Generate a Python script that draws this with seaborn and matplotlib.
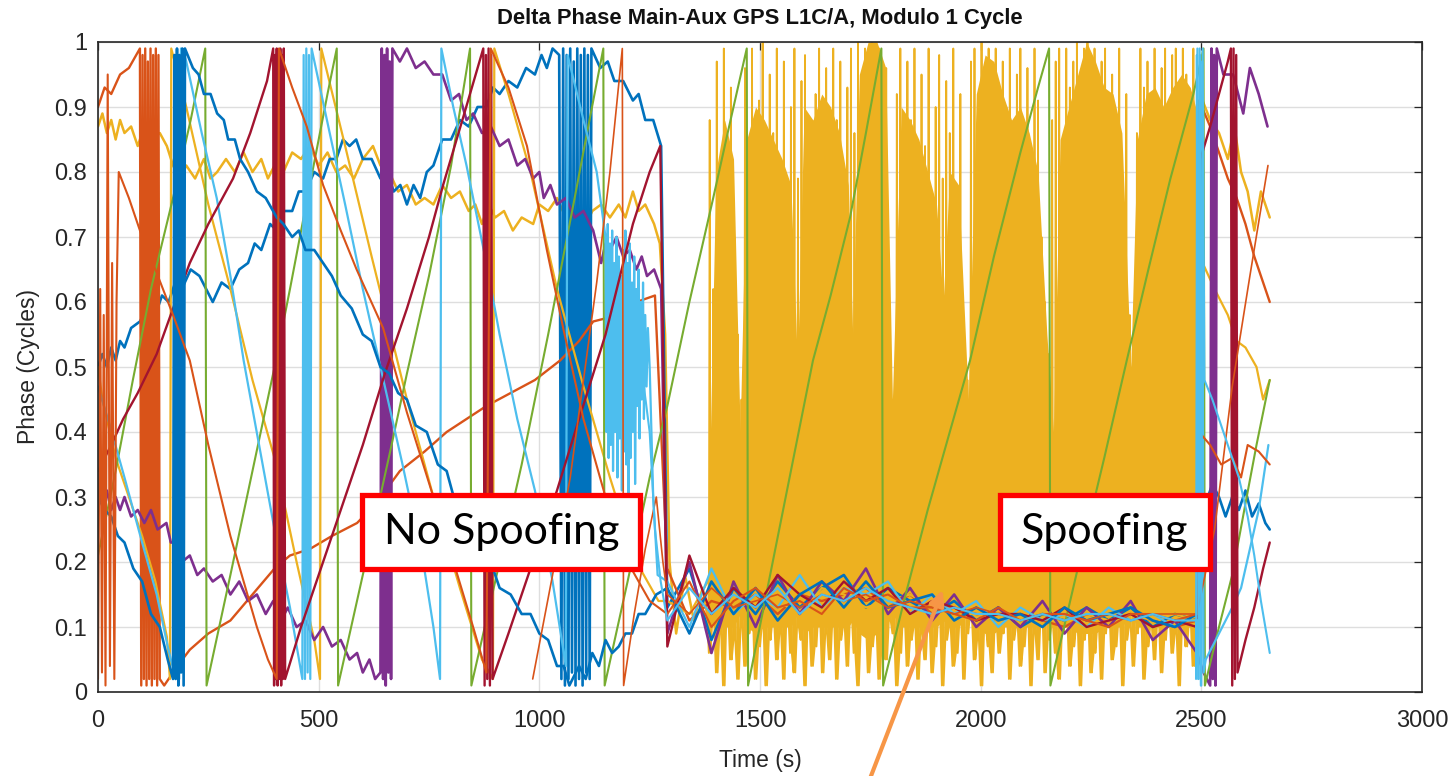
import matplotlib
matplotlib.use("Agg")
import matplotlib.pyplot as plt
from matplotlib import font_manager
from matplotlib.patches import Rectangle
import seaborn as sns

# MATLAB default line colours
BLUE = "#0072BD"
ORANGE = "#D95319"
YELLOW = "#EDB120"
PURPLE = "#7E2F8E"
GREEN = "#77AC30"
LIGHTBLUE = "#4DBEEE"
DARKRED = "#A2142F"

x_ticks = [0, 500, 1000, 1500, 2000, 2500, 3000]
x_tick_labels = ["0", "500", "1000", "1500", "2000", "2500", "3000"]
y_ticks = [0, 0.1, 0.2, 0.3, 0.4, 0.5, 0.6, 0.7, 0.8, 0.9, 1.0]
y_tick_labels = ["0", "0.1", "0.2", "0.3", "0.4", "0.5", "0.6", "0.7", "0.8", "0.9", "1"]

# ---- phase tracks before the spoofer captures the receiver: (time s, phase cycles) ----
blue_a_left = [(0, 0.50), (10, 0.52), (20, 0.50), (30, 0.53), (40, 0.51), (50, 0.54), (60, 0.53), (75, 0.56),
               (95, 0.57), (110, 0.59), (130, 0.58), (145, 0.61), (160, 0.60), (175, 0.63), (190, 0.62),
               (210, 0.65), (230, 0.64), (245, 0.62), (260, 0.60), (280, 0.63), (300, 0.62), (320, 0.65),
               (340, 0.66), (355, 0.69), (370, 0.68), (390, 0.72), (405, 0.71), (420, 0.74), (440, 0.74),
               (455, 0.77), (470, 0.77), (490, 0.80), (510, 0.79), (525, 0.82), (540, 0.82), (555, 0.85),
               (570, 0.84), (585, 0.85), (600, 0.82), (620, 0.82), (640, 0.79), (655, 0.80), (670, 0.77),
               (685, 0.78), (700, 0.75), (715, 0.78), (730, 0.76), (745, 0.80), (760, 0.81), (780, 0.85),
               (800, 0.85), (820, 0.88), (840, 0.87), (860, 0.90), (880, 0.90), (895, 0.93), (910, 0.92),
               (930, 0.94), (950, 0.93), (970, 0.96), (990, 0.95), (1005, 0.98), (1017, 0.96), (1030, 0.99),
               (1045, 0.98), (1050, 0.02), (1054, 0.99), (1058, 0.01), (1062, 0.98), (1066, 0.02), (1070, 0.99),
               (1074, 0.03), (1078, 0.97), (1082, 0.01), (1086, 0.99), (1090, 0.02), (1094, 0.98), (1098, 0.01),
               (1102, 0.99), (1106, 0.03), (1110, 0.98), (1114, 0.02), (1118, 0.99), (1138, 0.96), (1155, 0.97),
               (1170, 0.94), (1190, 0.94), (1212, 0.91), (1225, 0.92), (1240, 0.88), (1258, 0.88), (1276, 0.84)]
blue_b_left = [(0, 0.30), (15, 0.28), (30, 0.27), (45, 0.24), (60, 0.23), (80, 0.19), (100, 0.17), (120, 0.12),
               (140, 0.10), (158, 0.05), (170, 0.02), (173, 0.98), (176, 0.02), (179, 0.99), (182, 0.01),
               (185, 0.98), (188, 0.03), (191, 0.99), (194, 0.01), (197, 0.99), (215, 0.96), (228, 0.95),
               (240, 0.92), (255, 0.92), (270, 0.89), (285, 0.88), (295, 0.85), (310, 0.85), (322, 0.82),
               (340, 0.80), (360, 0.77), (380, 0.76), (405, 0.73), (420, 0.72), (440, 0.70), (455, 0.71),
               (470, 0.68), (490, 0.68), (510, 0.66), (530, 0.64), (550, 0.61), (575, 0.59), (600, 0.55),
               (620, 0.54), (640, 0.50), (660, 0.49), (680, 0.46), (700, 0.45), (720, 0.41), (745, 0.40),
               (770, 0.35), (790, 0.34), (810, 0.29), (835, 0.28), (860, 0.23), (885, 0.21), (910, 0.16),
               (935, 0.15), (960, 0.12), (980, 0.12), (1000, 0.09), (1020, 0.08), (1040, 0.04), (1055, 0.04),
               (1068, 0.01), (1090, 0.04), (1105, 0.02), (1120, 0.06), (1135, 0.04), (1150, 0.08), (1165, 0.06),
               (1180, 0.07), (1195, 0.09), (1210, 0.09), (1225, 0.12), (1240, 0.12), (1265, 0.15)]
lb_a_left = [(0, 0.47), (27, 0.41), (60, 0.33), (100, 0.23), (133, 0.15), (158, 0.07), (176, 0.02), (180, 0.97),
             (184, 0.02), (188, 0.99), (192, 0.03), (196, 0.98), (200, 0.97), (235, 0.86), (269, 0.76),
             (300, 0.64), (330, 0.51), (365, 0.38), (400, 0.25), (435, 0.13), (463, 0.02), (466, 0.98),
             (469, 0.02), (472, 0.99), (475, 0.03), (478, 0.98), (481, 0.02), (484, 0.99), (525, 0.86),
             (560, 0.75), (600, 0.62), (640, 0.50), (690, 0.35), (737, 0.20), (760, 0.10), (775, 0.02),
             (778, 0.99), (805, 0.90), (835, 0.81), (880, 0.66), (910, 0.55), (950, 0.42), (990, 0.31),
             (1030, 0.17), (1060, 0.04), (1064, 0.98), (1100, 0.88), (1130, 0.80), (1150, 0.70), (1152, 0.40),
             (1155, 0.72), (1157, 0.36), (1160, 0.69), (1162, 0.38), (1165, 0.71), (1167, 0.34), (1170, 0.66),
             (1172, 0.40), (1175, 0.70), (1177, 0.33), (1180, 0.67), (1182, 0.39), (1185, 0.64), (1187, 0.31),
             (1190, 0.68), (1192, 0.37), (1195, 0.71), (1197, 0.35), (1200, 0.66), (1202, 0.30), (1205, 0.69),
             (1207, 0.36), (1210, 0.63), (1212, 0.40), (1215, 0.67), (1217, 0.32), (1220, 0.62), (1222, 0.44),
             (1225, 0.65), (1227, 0.39), (1230, 0.60), (1232, 0.45), (1235, 0.63), (1237, 0.42), (1240, 0.58),
             (1243, 0.47), (1246, 0.56), (1250, 0.50), (1258, 0.30), (1268, 0.18)]
lb_c_left = [(1235, 0.48), (1250, 0.40), (1262, 0.25), (1275, 0.17)]
purple_left = [(0, 0.31), (10, 0.29), (20, 0.31), (30, 0.28), (40, 0.30), (50, 0.28), (60, 0.30), (75, 0.27),
               (90, 0.28), (105, 0.26), (120, 0.28), (135, 0.25), (155, 0.26), (165, 0.23), (175, 0.23),
               (190, 0.20), (208, 0.21), (225, 0.18), (240, 0.19), (260, 0.17), (280, 0.18), (300, 0.15),
               (320, 0.17), (340, 0.14), (360, 0.15), (380, 0.12), (397, 0.14), (415, 0.11), (430, 0.13),
               (450, 0.10), (470, 0.11), (490, 0.08), (510, 0.10), (530, 0.07), (550, 0.08), (570, 0.05),
               (587, 0.06), (600, 0.03), (615, 0.05), (628, 0.02), (640, 0.03), (643, 0.99), (646, 0.02),
               (649, 0.98), (652, 0.01), (655, 0.99), (658, 0.03), (661, 0.97), (664, 0.02), (667, 0.99),
               (684, 0.97), (700, 0.99), (720, 0.96), (740, 0.97), (760, 0.95), (780, 0.95), (800, 0.91),
               (818, 0.92), (835, 0.88), (850, 0.89), (870, 0.86), (890, 0.87), (910, 0.84), (930, 0.85),
               (950, 0.81), (968, 0.82), (986, 0.79), (1000, 0.80), (1010, 0.76), (1025, 0.78), (1040, 0.75),
               (1060, 0.76), (1080, 0.73), (1100, 0.74), (1122, 0.71), (1140, 0.66), (1150, 0.69), (1160, 0.68),
               (1175, 0.70), (1190, 0.67), (1205, 0.68), (1220, 0.65), (1232, 0.67), (1244, 0.64), (1260, 0.65),
               (1276, 0.62)]
red_left = [(0, 0.34), (30, 0.38), (57, 0.42), (90, 0.46), (133, 0.52), (170, 0.59), (208, 0.66), (250, 0.72),
            (306, 0.79), (345, 0.86), (383, 0.94), (397, 0.99), (399, 0.01), (401, 0.98), (403, 0.02),
            (405, 0.99), (407, 0.01), (409, 0.98), (411, 0.02), (413, 0.99), (415, 0.01), (417, 0.98),
            (419, 0.02), (421, 0.99), (424, 0.02), (460, 0.10), (510, 0.20), (560, 0.30), (600, 0.38),
            (650, 0.49), (700, 0.59), (750, 0.70), (782, 0.78), (830, 0.89), (873, 0.99), (876, 0.01),
            (879, 0.98), (882, 0.02), (885, 0.99), (888, 0.01), (891, 0.98), (894, 0.02), (930, 0.09),
            (980, 0.19), (1040, 0.31), (1090, 0.42), (1150, 0.55), (1212, 0.72), (1250, 0.80), (1274, 0.84)]
orange_a_left = [(0, 0.90), (15, 0.93), (30, 0.92), (50, 0.95), (70, 0.96), (95, 0.99), (98, 0.01), (101, 0.98),
                 (104, 0.02), (107, 0.99), (110, 0.01), (113, 0.97), (116, 0.02), (119, 0.99), (122, 0.01),
                 (125, 0.98), (128, 0.02), (131, 0.99), (134, 0.01), (137, 0.98), (140, 0.02), (150, 0.01),
                 (180, 0.04), (208, 0.065), (250, 0.09), (300, 0.11), (350, 0.15), (400, 0.19), (435, 0.21),
                 (480, 0.22), (530, 0.24), (587, 0.26), (630, 0.29), (684, 0.34), (740, 0.37), (790, 0.40),
                 (835, 0.42), (880, 0.44), (935, 0.46), (990, 0.48), (1047, 0.51), (1090, 0.54), (1122, 0.57),
                 (1180, 0.58), (1220, 0.60), (1262, 0.61)]
orange_b_left = [(0, 0.02), (5, 0.62), (9, 0.03), (13, 0.58), (17, 0.01), (22, 0.95), (27, 0.04), (32, 0.66),
                 (37, 0.02), (42, 0.60), (47, 0.80), (70, 0.76), (95, 0.71), (130, 0.65), (170, 0.58),
                 (208, 0.51), (250, 0.38), (300, 0.24), (330, 0.17), (360, 0.10), (385, 0.05), (405, 0.02),
                 (410, 0.99), (440, 0.93), (473, 0.87), (510, 0.78), (550, 0.71), (586, 0.65), (646, 0.56),
                 (700, 0.43), (760, 0.30), (810, 0.19), (850, 0.10), (880, 0.03), (890, 0.99), (930, 0.93),
                 (972, 0.84), (1017, 0.68), (1054, 0.56), (1100, 0.42), (1150, 0.30), (1200, 0.20), (1250, 0.14)]
orange_c_left = [(985, 0.02), (1030, 0.18), (1070, 0.33), (1100, 0.48), (1130, 0.63), (1160, 0.80), (1188, 0.99),
                 (1191, 0.01), (1215, 0.12), (1240, 0.22), (1265, 0.30), (1280, 0.20)]
yellow_a_left = [(0, 0.87), (10, 0.89), (20, 0.86), (30, 0.88), (40, 0.85), (50, 0.88), (60, 0.86), (75, 0.87),
                 (90, 0.84), (105, 0.87), (120, 0.85), (140, 0.86), (156, 0.84), (170, 0.81), (185, 0.79),
                 (200, 0.81), (220, 0.79), (240, 0.82), (255, 0.79), (270, 0.80), (290, 0.82), (310, 0.80),
                 (330, 0.83), (350, 0.80), (370, 0.82), (385, 0.79), (400, 0.81), (420, 0.80), (440, 0.83),
                 (460, 0.82), (480, 0.84), (500, 0.81), (520, 0.83), (540, 0.80), (560, 0.81), (580, 0.79),
                 (600, 0.82), (623, 0.84), (640, 0.81), (660, 0.80), (680, 0.77), (700, 0.78), (720, 0.75),
                 (740, 0.76), (760, 0.75), (780, 0.78), (800, 0.76), (820, 0.77), (840, 0.74), (855, 0.75),
                 (870, 0.72), (885, 0.75), (900, 0.73), (920, 0.74), (940, 0.71), (960, 0.73), (986, 0.72),
                 (1000, 0.75), (1020, 0.74), (1040, 0.76), (1060, 0.73), (1080, 0.74), (1100, 0.71), (1120, 0.74),
                 (1140, 0.75), (1160, 0.73), (1180, 0.75), (1195, 0.73), (1212, 0.77), (1225, 0.74), (1240, 0.75),
                 (1260, 0.72), (1273, 0.69), (1285, 0.55), (1295, 0.20), (1310, 0.09), (1330, 0.18), (1350, 0.11),
                 (1370, 0.16), (1380, 0.12)]
yellow_b_left = [(0, 0.50), (10, 0.45), (40, 0.36), (70, 0.30), (100, 0.24), (130, 0.17), (156, 0.085), (163, 0.02),
                 (166, 0.99), (200, 0.90), (250, 0.75), (300, 0.62), (350, 0.48), (400, 0.36), (450, 0.20),
                 (490, 0.08), (503, 0.02), (506, 0.99), (560, 0.84), (620, 0.67), (700, 0.45), (760, 0.30),
                 (820, 0.16), (870, 0.05), (895, 0.02), (898, 0.99), (930, 0.92), (980, 0.80), (1040, 0.62),
                 (1100, 0.47), (1160, 0.33), (1220, 0.20), (1270, 0.14)]
green_track = [(0, 0.21), (40, 0.34), (79, 0.48), (120, 0.62), (170, 0.76), (210, 0.88), (243, 0.99), (246, 0.01),
               (300, 0.18), (350, 0.34), (400, 0.50), (435, 0.62), (480, 0.78), (520, 0.92), (541, 0.99),
               (544, 0.01), (600, 0.18), (662, 0.37), (700, 0.49), (750, 0.64), (800, 0.81), (843, 0.99),
               (846, 0.01), (900, 0.17), (960, 0.35), (1020, 0.55), (1080, 0.76), (1108, 0.86), (1145, 0.99),
               (1148, 0.01), (1200, 0.17), (1250, 0.33), (1290, 0.44), (1340, 0.60), (1394, 0.76), (1430, 0.87),
               (1470, 0.99), (1473, 0.01), (1520, 0.17), (1570, 0.34), (1620, 0.51), (1660, 0.61), (1704, 0.73),
               (1740, 0.86), (1775, 0.99), (1779, 0.01), (1830, 0.15), (1880, 0.28), (1930, 0.40), (1976, 0.51),
               (2030, 0.67), (2090, 0.83), (2130, 0.93), (2155, 0.99), (2158, 0.01), (2220, 0.19), (2280, 0.36),
               (2331, 0.51), (2380, 0.65), (2430, 0.79), (2482, 0.92), (2505, 0.99), (2508, 0.01), (2540, 0.10),
               (2570, 0.18), (2600, 0.29), (2625, 0.38), (2655, 0.48)]

# ---- captured tracks collapse onto a common phase (every 50 s from 1290 s to 2490 s) ----
bundle_t = [1290, 1340, 1390, 1440, 1490, 1540, 1590, 1640, 1690, 1740, 1790, 1840, 1890,
            1940, 1990, 2040, 2090, 2140, 2190, 2240, 2290, 2340, 2390, 2440, 2490]
bundle_blue_a = [0.13, 0.19, 0.08, 0.16, 0.12, 0.17, 0.13, 0.16, 0.18, 0.13, 0.16, 0.14, 0.12,
                 0.14, 0.11, 0.13, 0.10, 0.12, 0.11, 0.13, 0.11, 0.13, 0.10, 0.12, 0.11]
bundle_blue_b = [0.16, 0.09, 0.17, 0.12, 0.16, 0.11, 0.15, 0.17, 0.13, 0.17, 0.13, 0.14, 0.15,
                 0.11, 0.13, 0.11, 0.12, 0.10, 0.13, 0.11, 0.12, 0.13, 0.11, 0.10, 0.12]
bundle_lb_a = [0.17, 0.10, 0.19, 0.12, 0.15, 0.13, 0.18, 0.13, 0.16, 0.15, 0.17, 0.12, 0.15,
               0.12, 0.14, 0.10, 0.13, 0.11, 0.12, 0.10, 0.13, 0.11, 0.12, 0.10, 0.12]
bundle_lb_c = [0.11, 0.16, 0.12, 0.15, 0.13, 0.16, 0.12, 0.15, 0.14, 0.16, 0.14, 0.13, 0.12,
               0.13, 0.12, 0.12, 0.11, 0.12, 0.11, 0.12, 0.12, 0.11, 0.12, 0.11, 0.11]
bundle_purple = [0.09, 0.20, 0.06, 0.17, 0.10, 0.18, 0.12, 0.17, 0.14, 0.19, 0.12, 0.16, 0.11,
                 0.15, 0.10, 0.13, 0.10, 0.14, 0.09, 0.13, 0.10, 0.14, 0.08, 0.11, 0.06]
bundle_red = [0.07, 0.21, 0.12, 0.16, 0.13, 0.18, 0.15, 0.13, 0.17, 0.14, 0.16, 0.12, 0.14,
              0.13, 0.11, 0.12, 0.12, 0.11, 0.13, 0.10, 0.11, 0.12, 0.10, 0.11, 0.10]
bundle_orange_a = [0.19, 0.11, 0.14, 0.13, 0.15, 0.12, 0.15, 0.14, 0.15, 0.16, 0.13, 0.15, 0.12,
                   0.13, 0.12, 0.11, 0.12, 0.11, 0.10, 0.12, 0.11, 0.12, 0.11, 0.10, 0.11]
bundle_orange_b = [0.12, 0.17, 0.10, 0.14, 0.16, 0.13, 0.14, 0.12, 0.16, 0.14, 0.15, 0.13, 0.13,
                   0.12, 0.11, 0.13, 0.11, 0.12, 0.12, 0.11, 0.10, 0.12, 0.12, 0.11, 0.12]
bundle_orange_c = [0.15, 0.12, 0.16, 0.13, 0.14, 0.15, 0.13, 0.15, 0.14, 0.15, 0.13, 0.14, 0.13,
                   0.12, 0.13, 0.12, 0.11, 0.12, 0.12, 0.11, 0.12, 0.11, 0.12, 0.12, 0.12]
bundle_yellow_b = [0.14, 0.12, 0.18, 0.11, 0.15, 0.14, 0.12, 0.16, 0.15, 0.13, 0.14, 0.15, 0.13,
                   0.12, 0.12, 0.11, 0.12, 0.12, 0.11, 0.12, 0.11, 0.12, 0.11, 0.12, 0.11]

# ---- the spoofed yellow channel: a cycle slip every 8 s from 1384 s to 2488 s ----
slip_t = list(range(1384, 2489, 8))
slip_top = [0.88, 0.62, 0.97, 0.75, 0.99, 0.84, 0.93, 0.70, 0.55, 0.45,
            0.96, 0.80, 0.99, 0.72, 0.91, 1.00, 0.78, 0.95, 0.86, 0.99,
            0.82, 0.97, 0.68, 0.90, 0.99, 0.79, 0.94, 0.98, 0.62, 0.50,
            0.92, 0.99, 0.83, 0.96, 0.74, 0.99, 0.88, 0.97, 0.80, 0.93,
            0.99, 0.86, 1.00, 0.95, 0.99, 0.91, 1.00, 0.97, 0.99, 0.90,
            0.96, 0.58, 0.45, 0.92, 0.99, 0.81, 0.97, 0.88, 0.99, 0.76,
            0.95, 0.84, 0.99, 0.73, 0.90, 0.98, 0.79, 0.94, 0.86, 0.99,
            0.77, 0.92, 0.55, 0.48, 0.97, 0.99, 0.89, 1.00, 0.96, 0.99,
            0.93, 0.99, 0.85, 0.97, 0.90, 0.99, 0.82, 0.95, 0.99, 0.87,
            0.96, 0.78, 0.99, 0.91, 0.70, 0.60, 0.52, 0.88, 0.97, 0.99,
            0.84, 0.99, 0.93, 0.97, 1.00, 0.89, 0.99, 1.00, 0.95, 0.99,
            0.90, 0.97, 0.99, 0.83, 0.95, 0.88, 0.99, 0.78, 0.92, 0.58,
            0.50, 0.86, 0.99, 0.93, 0.97, 0.81, 0.99, 0.90, 0.96, 0.99,
            0.87, 0.98, 0.99, 0.92, 0.99, 0.95, 0.89, 0.99, 0.94]
slip_bottom = [0.06, 0.11, 0.03, 0.09, 0.01, 0.12, 0.05, 0.08, 0.02, 0.10,
               0.04, 0.09, 0.12, 0.02, 0.07, 0.10, 0.01, 0.08, 0.11, 0.05,
               0.09, 0.02, 0.12, 0.06, 0.03, 0.10, 0.08, 0.01, 0.11, 0.04,
               0.07, 0.12, 0.03, 0.09, 0.05, 0.11, 0.02, 0.08, 0.10, 0.04,
               0.12, 0.06, 0.01, 0.09, 0.11, 0.03, 0.07, 0.10, 0.02, 0.08,
               0.05, 0.11, 0.09, 0.01, 0.06, 0.12, 0.04, 0.08, 0.10, 0.02,
               0.09, 0.05, 0.11, 0.03, 0.07, 0.12, 0.01, 0.08, 0.10, 0.04,
               0.06, 0.11, 0.02, 0.09, 0.12, 0.05, 0.08, 0.01, 0.10, 0.07,
               0.03, 0.11, 0.06, 0.09, 0.12, 0.02, 0.08, 0.10, 0.04, 0.07,
               0.11, 0.01, 0.09, 0.05, 0.12, 0.03, 0.08, 0.10, 0.06, 0.02,
               0.09, 0.12, 0.04, 0.07, 0.10, 0.01, 0.08, 0.11, 0.03, 0.06,
               0.10, 0.02, 0.09, 0.12, 0.05, 0.07, 0.11, 0.01, 0.08, 0.10,
               0.04, 0.09, 0.12, 0.02, 0.07, 0.10, 0.05, 0.11, 0.03, 0.08,
               0.12, 0.06, 0.09, 0.01, 0.10, 0.07, 0.11, 0.04, 0.08]
# solid part of the slip band: (time, lower edge, upper edge)
core_band = [(1380, 0.12, 0.15), (1400, 0.10, 0.80), (1420, 0.10, 0.88), (1440, 0.10, 0.82), (1455, 0.12, 0.40),
             (1470, 0.10, 0.85), (1490, 0.09, 0.90), (1510, 0.10, 0.88), (1530, 0.10, 0.85), (1550, 0.10, 0.82),
             (1570, 0.10, 0.78), (1585, 0.12, 0.50), (1600, 0.09, 0.90), (1620, 0.10, 0.88), (1640, 0.10, 0.92),
             (1660, 0.10, 0.90), (1680, 0.10, 0.86), (1700, 0.10, 0.78), (1710, 0.11, 0.55), (1725, 0.09, 0.95),
             (1745, 0.08, 1.00), (1765, 0.09, 1.00), (1785, 0.10, 0.96), (1800, 0.12, 0.45), (1820, 0.10, 0.90),
             (1840, 0.10, 0.88), (1860, 0.10, 0.85), (1880, 0.10, 0.80), (1900, 0.10, 0.75), (1915, 0.11, 0.60),
             (1930, 0.10, 0.80), (1950, 0.10, 0.78), (1972, 0.12, 0.45), (1990, 0.10, 0.92), (2010, 0.09, 0.98),
             (2030, 0.09, 0.97), (2050, 0.10, 0.92), (2070, 0.10, 0.88), (2090, 0.10, 0.90), (2110, 0.10, 0.86),
             (2130, 0.10, 0.80), (2150, 0.11, 0.55), (2165, 0.12, 0.40), (2180, 0.10, 0.85), (2200, 0.10, 0.90),
             (2220, 0.09, 0.95), (2240, 0.09, 1.00), (2260, 0.09, 0.97), (2280, 0.10, 0.93), (2300, 0.10, 0.92),
             (2320, 0.10, 0.86), (2340, 0.12, 0.50), (2355, 0.10, 0.85), (2375, 0.10, 0.92), (2395, 0.10, 0.93),
             (2415, 0.10, 0.90), (2435, 0.10, 0.93), (2455, 0.10, 0.95), (2475, 0.10, 0.93), (2495, 0.10, 0.88)]

# ---- tracks after the spoofer drops off ----
blue_a_end = [(2496, 0.31), (2510, 0.29), (2525, 0.32), (2540, 0.30), (2555, 0.27), (2570, 0.30), (2585, 0.28),
              (2600, 0.31), (2615, 0.27), (2630, 0.29), (2645, 0.26), (2655, 0.25)]
lb_a_end = [(2490, 0.98), (2493, 0.02), (2496, 0.99), (2499, 0.01), (2502, 0.97), (2505, 0.03), (2510, 0.05),
            (2525, 0.07), (2540, 0.09), (2555, 0.11), (2570, 0.13), (2590, 0.16), (2610, 0.22), (2630, 0.28),
            (2652, 0.38)]
lb_c_end = [(2488, 0.02), (2491, 0.99), (2494, 0.02), (2497, 0.98), (2500, 0.01), (2503, 0.99), (2507, 0.48),
            (2525, 0.45), (2545, 0.41), (2565, 0.37), (2585, 0.33), (2605, 0.27), (2620, 0.21), (2635, 0.14),
            (2655, 0.06)]
purple_end = [(2505, 0.03), (2520, 0.01), (2523, 0.99), (2526, 0.02), (2529, 0.98), (2532, 0.01), (2535, 0.99),
              (2550, 0.95), (2572, 0.95), (2595, 0.89), (2610, 0.96), (2630, 0.92), (2650, 0.87)]
red_end = [(2498, 0.82), (2520, 0.87), (2540, 0.92), (2560, 0.97), (2567, 0.99), (2570, 0.01), (2573, 0.99),
           (2576, 0.02), (2579, 0.98), (2582, 0.03), (2600, 0.08), (2620, 0.13), (2640, 0.19), (2655, 0.23)]
orange_a_end = [(2495, 0.91), (2520, 0.87), (2540, 0.83), (2560, 0.79), (2580, 0.76), (2600, 0.72), (2620, 0.67),
                (2640, 0.63), (2655, 0.60)]
orange_b_end = [(2495, 0.40), (2520, 0.38), (2545, 0.35), (2570, 0.36), (2590, 0.33), (2605, 0.38), (2630, 0.37),
                (2655, 0.35)]
orange_c_end = [(2530, 0.25), (2570, 0.47), (2610, 0.64), (2651, 0.81)]
yellow_a_end = [(2497, 0.92), (2520, 0.88), (2540, 0.86), (2560, 0.82), (2575, 0.87), (2590, 0.80), (2605, 0.77),
                (2620, 0.71), (2635, 0.77), (2655, 0.73)]
yellow_b_end = [(2503, 0.66), (2530, 0.62), (2560, 0.58), (2580, 0.54), (2600, 0.53), (2625, 0.50), (2640, 0.45),
                (2655, 0.48)]


def track(left, bundle=None, end=None):
    pts = list(left)
    if bundle is not None:
        pts += list(zip(bundle_t, bundle))
    if end is not None:
        pts += list(end)
    return [p[0] for p in pts], [p[1] for p in pts]


# each slip is a near-vertical excursion: bottom -> top -> bottom within 4 s
slip_pts = [yellow_a_left[-1]]
for t, top, bottom in zip(slip_t, slip_top, slip_bottom):
    slip_pts += [(t, bottom), (t + 2, top), (t + 4, bottom)]
slip_pts.append(yellow_a_end[0])

# (colour, line width, time, phase) in plotting order
tracks = [
    (YELLOW, 1.3, *track(slip_pts)),
    (YELLOW, 1.8, *track(yellow_a_left)),
    (YELLOW, 1.8, *track(yellow_a_end)),
    (BLUE, 1.9, *track(blue_a_left, bundle_blue_a, blue_a_end)),
    (ORANGE, 1.7, *track(orange_a_left, bundle_orange_a, orange_a_end)),
    (YELLOW, 1.6, *track(yellow_b_left, bundle_yellow_b, yellow_b_end)),
    (PURPLE, 1.9, *track(purple_left, bundle_purple, purple_end)),
    (GREEN, 1.5, *track(green_track)),
    (LIGHTBLUE, 1.6, *track(lb_a_left, bundle_lb_a, lb_a_end)),
    (DARKRED, 1.7, *track(red_left, bundle_red, red_end)),
    (BLUE, 1.9, *track(blue_b_left, bundle_blue_b)),
    (ORANGE, 1.5, *track(orange_b_left, bundle_orange_b, orange_b_end)),
    (ORANGE, 1.2, *track(orange_c_left, bundle_orange_c, orange_c_end)),
    (LIGHTBLUE, 1.5, *track(lb_c_left, bundle_lb_c, lb_c_end)),
]

sns.set_theme(style="white")
available = {f.name for f in font_manager.fontManager.ttflist}
sans = "Liberation Sans" if "Liberation Sans" in available else "DejaVu Sans"
box_font = "Lato" if "Lato" in available else sans
plt.rcParams["font.family"] = [sans, "DejaVu Sans"]

fig = plt.figure(figsize=(14.55, 7.76), dpi=100)
ax = fig.add_axes([98 / 1455, 84 / 776, 1324 / 1455, 650 / 776])

ax.fill_between([c[0] for c in core_band], [c[1] for c in core_band], [c[2] for c in core_band],
                color=YELLOW, lw=0, zorder=2)
for color, lw, t, v in tracks:
    sns.lineplot(x=t, y=v, color=color, linewidth=lw, sort=False, estimator=None,
                 legend=False, ax=ax, zorder=2)

ax.set_xlim(0, 3000)
ax.set_ylim(0, 1)
ax.set_xticks(x_ticks)
ax.set_xticklabels(x_tick_labels)
ax.set_yticks(y_ticks)
ax.set_yticklabels(y_tick_labels)
ax.grid(True, color="#DEDEDE", linewidth=1.0)
ax.set_axisbelow(True)
ax.tick_params(direction="in", length=6, width=0.9, top=True, right=True, colors="#262626", labelsize=17)
ax.tick_params(axis="y", pad=8)
ax.tick_params(axis="x", pad=13)
for s in ax.spines.values():
    s.set_color("#262626")
    s.set_linewidth(1.2)

ax.set_xlabel("Time (s)", fontsize=16.5, color="#262626", labelpad=12)
ax.set_ylabel("Phase (Cycles)", fontsize=16.5, color="#262626", labelpad=10)
ax.set_title("Delta Phase Main-Aux GPS L1C/A, Modulo 1 Cycle", fontsize=15.8, fontweight="bold",
             color="#111111", pad=13)

# labelled regions
for (t0, t1, label) in [(599, 1229, "No Spoofing"), (2043, 2519, "Spoofing")]:
    ax.add_patch(Rectangle((t0, 0.1885), t1 - t0, 0.1153, facecolor="white", edgecolor="#FF0000",
                           linewidth=3.8, zorder=5))
    ax.text((t0 + t1) / 2, 0.2455, label, ha="center", va="center", fontsize=31, family=box_font,
            color="black", zorder=6)

ax.annotate("", xy=(1914, 0.157), xycoords="data", xytext=(868 / 1455, -0.01), textcoords="figure fraction",
            arrowprops=dict(arrowstyle="-|>", color="#F79646", lw=3, mutation_scale=22, shrinkA=0, shrinkB=0),
            annotation_clip=False, zorder=7)

fig.savefig("out.png", dpi=100)
